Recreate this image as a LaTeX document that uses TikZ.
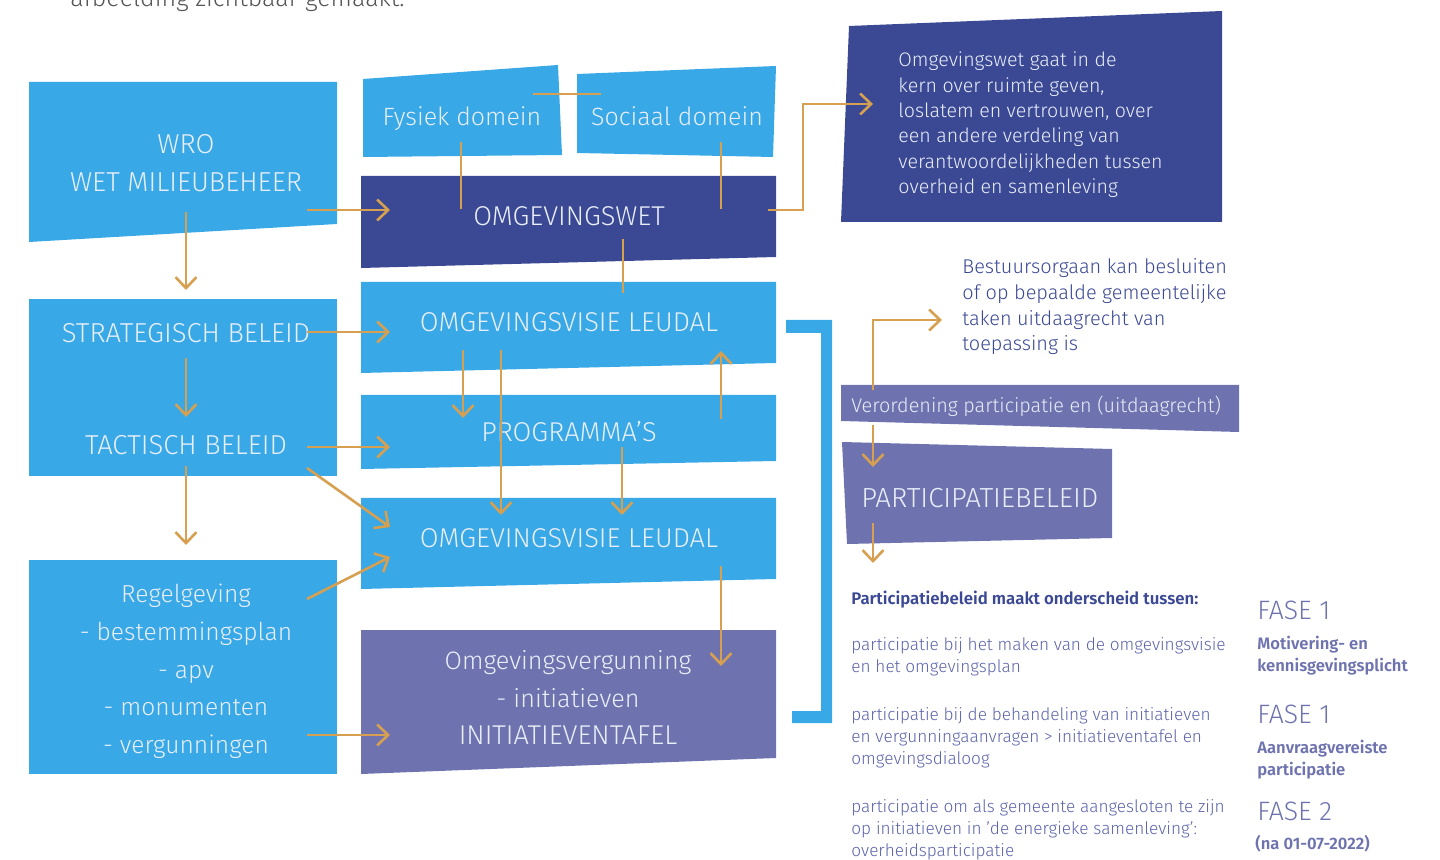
\documentclass[tikz,border=0pt]{standalone}
\usepackage{fontspec}
\setmainfont{Fira Sans}[UprightFont={* Light},BoldFont={* SemiBold}]
\usetikzlibrary{arrows.meta}
\definecolor{lblue}{RGB}{56,168,230}
\definecolor{dblue}{RGB}{59,72,148}
\definecolor{purp}{RGB}{110,115,175}
\definecolor{gold}{RGB}{214,160,80}
\definecolor{boxtxt}{RGB}{232,238,248}
\definecolor{headblue}{RGB}{59,72,148}
\definecolor{bodyblue}{RGB}{92,100,170}
\definecolor{fasecol}{RGB}{110,115,175}
\definecolor{topgray}{RGB}{85,85,85}
\begin{document}
\begin{tikzpicture}[x=0.5pt,y=-0.5pt,
  conn/.style={draw=gold, line width=1.3pt, -{Straight Barb[length=5.5pt,width=10.5pt]}},
  link/.style={draw=gold, line width=1.3pt},
  wt/.style={text=boxtxt, inner sep=0pt, anchor=base},
  midtxt/.style={wt, font=\fontsize{13.6}{15}\selectfont},
  midlow/.style={wt, font=\fontsize{12.6}{15}\selectfont},
  lefttxt/.style={wt, font=\fontsize{13.7}{15}\selectfont},
  leftlow/.style={wt, font=\fontsize{12.3}{15}\selectfont},
  domtxt/.style={wt, font=\fontsize{12.5}{16}\selectfont},
  desctxt/.style={wt, anchor=base west, font=\fontsize{9.8}{12}\selectfont},
  besttxt/.style={inner sep=0pt, anchor=base west, text=headblue, font=\fontsize{9.95}{12}\selectfont},
  bodytxt/.style={inner sep=0pt, anchor=base west, text=bodyblue, font=\fontsize{8.6}{11}\selectfont},
  fasetxt/.style={inner sep=0pt, anchor=base west, text=fasecol, font=\fontsize{13.3}{15}\selectfont},
  fasesub/.style={inner sep=0pt, anchor=base west, text=fasecol, font=\bfseries\fontsize{8.3}{11}\selectfont}
]
\useasboundingbox (0,0) rectangle (1440,860);
\clip (0,0) rectangle (1440,860);

% top cut-off text
\node[inner sep=0pt, anchor=base west, text=topgray, font=\fontsize{12.5}{14}\selectfont] (toptxt) at (70,7) {afbeelding zichtbaar gemaakt.};

% boxes
\fill[lblue] (29,82) -- (337,82) -- (337,224) -- (29,242) -- cycle;
\fill[lblue] (29,299) -- (337,299) -- (337,476) -- (29,476) -- cycle;
\fill[lblue] (29,560) -- (337,560) -- (337,774) -- (29,774) -- cycle;
\fill[lblue] (363,79) -- (558,65) -- (562,155) -- (363,157) -- cycle;
\fill[lblue] (577,74) -- (776,66) -- (773,157) -- (577,153) -- cycle;
\fill[dblue] (361,176) -- (776,176) -- (776,257) -- (361,268) -- cycle;
\fill[lblue] (361,282) -- (776,282) -- (776,363) -- (361,373) -- cycle;
\fill[lblue] (361,395) -- (776,395) -- (776,461) -- (361,469) -- cycle;
\fill[lblue] (361,498) -- (776,498) -- (776,579) -- (361,589) -- cycle;
\fill[purp] (361,630) -- (776,630) -- (776,758) -- (361,774) -- cycle;
\fill[dblue] (849,26) -- (1222,11) -- (1222,222) -- (841,222) -- cycle;
\fill[purp] (841,385) -- (1239,385) -- (1239,432) -- (841,421) -- cycle;
\fill[purp] (842,442) -- (1112,449) -- (1112,538) -- (847,544) -- cycle;
% bracket
\fill[lblue] (786,320) -- (832,320) -- (832,723) -- (792,723) -- (792,711) -- (821,711) -- (821,333) -- (786,333) -- cycle;

% left column texts
\node[lefttxt] (wro) at (186,154) {WRO};
\node[lefttxt] (wm) at (186,192) {WET MILIEUBEHEER};
\node[lefttxt] (strat) at (186,343) {STRATEGISCH BELEID};
\node[lefttxt] (tact) at (186,455) {TACTISCH BELEID};
\node[leftlow] (reg1) at (186,603) {Regelgeving};
\node[leftlow] (reg2) at (186,640.5) {- bestemmingsplan};
\node[leftlow] (reg3) at (186,678) {- apv};
\node[leftlow] (reg4) at (186,715.5) {- monumenten};
\node[leftlow] (reg5) at (186,753) {- vergunningen};

% middle texts
\node[domtxt] (fys) at (462,126) {Fysiek domein};
\node[domtxt] (soc) at (677,126) {Sociaal domein};
\node[midtxt] (ow) at (569,226) {OMGEVINGSWET};
\node[midtxt] (ov1) at (569,332) {OMGEVINGSVISIE LEUDAL};
\node[midtxt] (prog) at (569,442) {PROGRAMMA'S};
\node[midtxt] (ov2) at (569,548) {OMGEVINGSVISIE LEUDAL};
\node[midlow] (ovg1) at (568,669) {Omgevingsvergunning};
\node[midlow] (ovg2) at (568,707) {- initiatieven};
\node[midtxt] (ovg3) at (568,744) {INITIATIEVENTAFEL};

% description
\foreach \s [count=\i] in {{Omgevingswet gaat in de},{kern over ruimte geven,},{loslatem en vertrouwen, over},{een andere verdeling van},{verantwoordelijkheden tussen},{overheid en samenleving}}
  \node[desctxt] (desc\i) at (898,{67+25.3*(\i-1)}) {\s};

% bestuursorgaan
\foreach \s [count=\i] in {{Bestuursorgaan kan besluiten},{of op bepaalde gemeentelijke},{taken uitdaagrecht van},{toepassing is}}
  \node[besttxt] (best\i) at (962,{274+25.6*(\i-1)}) {\s};

\node[wt, anchor=base west, font=\fontsize{9.9}{12}\selectfont] (verord) at (851,413) {Verordening participatie en (uitdaagrecht)};
\node[wt, anchor=base west, font=\fontsize{13.8}{16}\selectfont] (partb) at (861,508) {PARTICIPATIEBELEID};

% bottom texts
\node[inner sep=0pt, anchor=base west, text=headblue, font=\bfseries\fontsize{8.4}{11}\selectfont] (head) at (851,604) {Participatiebeleid maakt onderscheid tussen:};
\node[bodytxt] (p11) at (851,650) {participatie bij het maken van de omgevingsvisie};
\node[bodytxt] (p12) at (851,672) {en het omgevingsplan};
\node[bodytxt] (p21) at (851,720) {participatie bij de behandeling van initiatieven};
\node[bodytxt] (p22) at (851,742) {en vergunningaanvragen > initiatieventafel en};
\node[bodytxt] (p23) at (851,764) {omgevingsdialoog};
\node[bodytxt] (p31) at (851,812) {participatie om als gemeente aangesloten te zijn};
\node[bodytxt] (p32) at (851,834) {op initiatieven in 'de energieke samenleving':};
\node[bodytxt] (p33) at (851,856) {overheidsparticipatie};

\node[fasetxt] (f1) at (1257,619) {FASE 1};
\node[fasesub] (f1a) at (1257,649) {Motivering- en};
\node[fasesub] (f1b) at (1257,671) {kennisgevingsplicht};
\node[fasetxt] (f2) at (1257,723) {FASE 1};
\node[fasesub] (f2a) at (1257,753) {Aanvraagvereiste};
\node[fasesub] (f2b) at (1257,775) {participatie};
\node[fasetxt] (f3) at (1257,820) {FASE 2};
\node[fasesub] (f3a) at (1255,849) {(na 01-07-2022)};

% connector coordinates
\coordinate (fysR) at (533,94); \coordinate (socL) at (601,94);
\coordinate (fysB) at (461,142); \coordinate (owL) at (461,209);
\coordinate (socB) at (721,142); \coordinate (owR) at (721,209);
\coordinate (owB) at (623,239); \coordinate (ov1T) at (623,293);
\coordinate (owOut) at (768,210); \coordinate (bend1) at (803,210); \coordinate (bend2) at (803,104); \coordinate (descIn) at (873,104);
\coordinate (wroB) at (186,212); \coordinate (stratT) at (186,290);
\coordinate (wroR) at (307,210); \coordinate (owIn) at (390,210);
\coordinate (stratR) at (307,332); \coordinate (ov1In) at (390,332);
\coordinate (stratB) at (186,358); \coordinate (tactT) at (186,417);
\coordinate (tactR) at (307,447); \coordinate (progIn) at (390,447);
\coordinate (tactD) at (307,468); \coordinate (ov2InA) at (390,527);
\coordinate (tactB) at (186,466); \coordinate (regT) at (186,545);
\coordinate (regD) at (307,599); \coordinate (ov2InB) at (390,557);
\coordinate (regR) at (307,735); \coordinate (ovgIn) at (390,735);
\coordinate (ov1Ba) at (463,350); \coordinate (progTa) at (463,418);
\coordinate (ov1Bb) at (501,350); \coordinate (ov2Ta) at (501,515);
\coordinate (progUp) at (721,419); \coordinate (ov1Up) at (721,351);
\coordinate (progB) at (622,447); \coordinate (ov2Tb) at (622,515);
\coordinate (ov2B) at (721,566); \coordinate (ovgT) at (721,666);
\coordinate (verT) at (873,390); \coordinate (bend3) at (873,320); \coordinate (bestIn) at (942,320);
\coordinate (verB) at (873,425); \coordinate (partT) at (873,467);
\coordinate (partB) at (873,523); \coordinate (headT) at (873,563);

% plain links
\draw[link] (fysR) -- (socL);
\draw[link] (fysB) -- (owL);
\draw[link] (socB) -- (owR);
\draw[link] (owB) -- (ov1T);

% arrows
\draw[conn] (owOut) -- (bend1) -- (bend2) -- (descIn);
\draw[conn] (wroB) -- (stratT);
\draw[conn] (wroR) -- (owIn);
\draw[conn] (stratR) -- (ov1In);
\draw[conn] (stratB) -- (tactT);
\draw[conn] (tactR) -- (progIn);
\draw[conn] (tactD) -- (ov2InA);
\draw[conn] (tactB) -- (regT);
\draw[conn] (regD) -- (ov2InB);
\draw[conn] (regR) -- (ovgIn);
\draw[conn] (ov1Ba) -- (progTa);
\draw[conn] (ov1Bb) -- (ov2Ta);
\draw[conn] (progUp) -- (ov1Up);
\draw[conn] (progB) -- (ov2Tb);
\draw[conn] (ov2B) -- (ovgT);
\draw[conn] (verT) -- (bend3) -- (bestIn);
\draw[conn] (verB) -- (partT);
\draw[conn] (partB) -- (headT);
\end{tikzpicture}
\end{document}
